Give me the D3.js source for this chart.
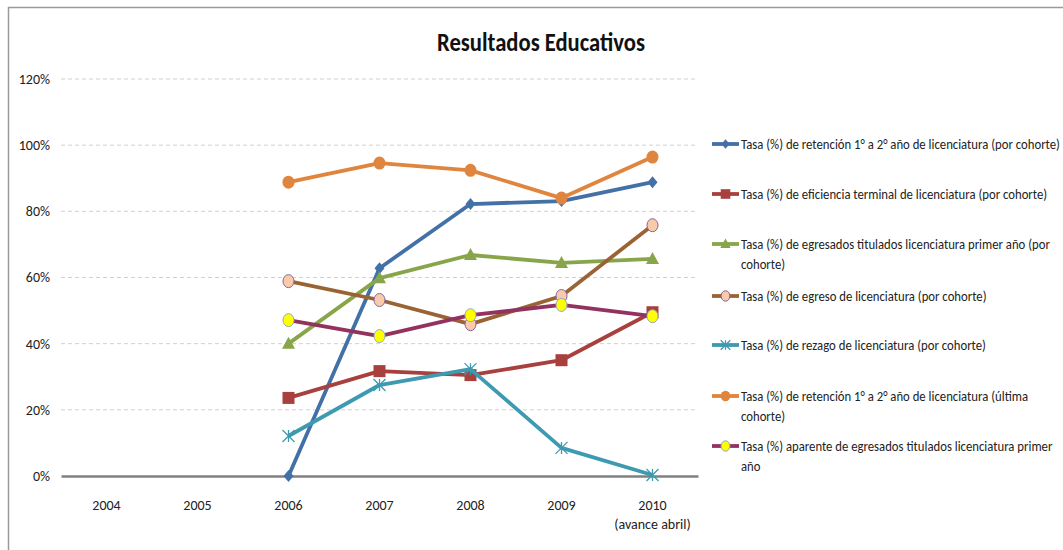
<!DOCTYPE html>
<html><head><meta charset="utf-8">
<script src="https://cdnjs.cloudflare.com/ajax/libs/d3/7.8.5/d3.min.js"></script>
<style>body{margin:0;background:#fff}svg{display:block}</style>
</head><body><svg id="c" width="1063" height="550"></svg>
<script>
const years = ["2004","2005","2006","2007","2008","2009","2010"];
const yearSub = ["","","","","","","(avance abril)"];
const yTicks = [0,20,40,60,80,100,120];
const dataYears = ["2006","2007","2008","2009","2010"];
const retencionCohorte = [0, 62.8, 82.2, 83.1, 88.8];
const eficienciaTerminal = [23.6, 31.7, 30.5, 35.0, 49.5];
const egresadosTitulados = [40.0, 59.8, 66.8, 64.4, 65.6];
const egresoLicenciatura = [58.9, 53.2, 45.9, 54.4, 75.8];
const rezagoLicenciatura = [12.1, 27.5, 32.3, 8.5, 0.3];
const retencionUltima = [88.8, 94.6, 92.4, 84.0, 96.4];
const aparenteTitulados = [47.1, 42.3, 48.6, 51.7, 48.3];
const seriesNames = [
 ["Tasa (%) de retención 1° a 2° año de licenciatura (por cohorte)"],
 ["Tasa (%) de eficiencia terminal de licenciatura (por cohorte)"],
 ["Tasa (%) de egresados titulados  licenciatura primer año (por","cohorte)"],
 ["Tasa (%) de egreso de licenciatura (por cohorte)"],
 ["Tasa (%) de rezago de licenciatura (por cohorte)"],
 ["Tasa (%) de retención 1° a 2° año de licenciatura (última","cohorte)"],
 ["Tasa (%) aparente de egresados titulados  licenciatura primer","año"]
];
const series = [
 {vals:retencionCohorte, color:"#4470A8", marker:"diamond"},
 {vals:eficienciaTerminal, color:"#A8403E", marker:"square"},
 {vals:egresadosTitulados, color:"#88A54A", marker:"triangle"},
 {vals:egresoLicenciatura, color:"#9A6334", marker:"circleP"},
 {vals:rezagoLicenciatura, color:"#3E9AB0", marker:"star"},
 {vals:retencionUltima, color:"#E0853D", marker:"circle"},
 {vals:aparenteTitulados, color:"#93325F", marker:"circleY"}
];
const font = "Carlito,'Liberation Sans Narrow',Lato,'Liberation Sans',sans-serif";
const svg = d3.select("#c");
svg.append("rect").attr("x",8.5).attr("y",7.5).attr("width",1100).attr("height",600)
  .attr("fill","#fff").attr("stroke","#9a9a9a").attr("stroke-width",1.5);

function fitX(sel, anchorX, target, w){
  const k = target / w;
  sel.attr("transform",`translate(${anchorX},0) scale(${k},1) translate(${-anchorX},0)`);
}

const title = svg.append("text").attr("x",541).attr("y",51).attr("text-anchor","middle")
  .attr("font-family",font).attr("font-weight","bold").attr("font-size",27).attr("fill","#111")
  .text("Resultados Educativos");
fitX(title, 541, 208, title.node().getComputedTextLength());

const x = d3.scaleBand().domain(years).range([61,698]);
const y = d3.scaleLinear().domain([0,120]).range([476,79]);
const g = svg.append("g");
g.selectAll("line.grid").data(yTicks.filter(d=>d>0)).join("line")
  .attr("x1",61).attr("x2",698).attr("y1",d=>y(d)).attr("y2",d=>y(d))
  .attr("stroke","#d0d0d0").attr("stroke-dasharray","4,3");
const yAx = d3.axisLeft(y).tickValues(yTicks).tickFormat(d=>d+"%").tickSize(0).tickPadding(0);
const ya = svg.append("g").attr("transform","translate(50,0)").call(yAx);
ya.select(".domain").remove();
ya.selectAll("text").attr("font-family",font).attr("font-size",14).attr("fill","#222");
const xAx = d3.axisBottom(x).tickSize(0).tickPadding(0);
const xa = svg.append("g").attr("transform","translate(0,476)").call(xAx);
xa.select(".domain").attr("stroke","#808080").attr("stroke-width",2.5);
xa.selectAll("text").attr("font-family",font).attr("font-size",14).attr("fill","#222").attr("dy","0").attr("y",34);
xa.selectAll(".tick").append("text").attr("y",53).attr("fill","#222").attr("font-family",font).attr("font-size",14)
  .attr("text-anchor","middle").text((d,i)=>yearSub[i]);

const cx = d=>x(d)+x.bandwidth()/2;
const line = d3.line().x((d,i)=>cx(dataYears[i])).y(d=>y(d));

function drawMarker(sel, type, color, px, py, s){
  s = s||1;
  if(type==="diamond"){
    sel.append("path").attr("d",`M${px},${py-6*s}L${px+5*s},${py}L${px},${py+6*s}L${px-5*s},${py}Z`).attr("fill",color);
  } else if(type==="square"){
    sel.append("rect").attr("x",px-6*s).attr("y",py-6*s).attr("width",12*s).attr("height",12*s).attr("fill",color);
  } else if(type==="triangle"){
    sel.append("path").attr("d",`M${px},${py-7*s}L${px+6.5*s},${py+5*s}L${px-6.5*s},${py+5*s}Z`).attr("fill",color);
  } else if(type==="circleP"){
    sel.append("ellipse").attr("cx",px).attr("cy",py).attr("rx",5.5*s).attr("ry",6.5*s).attr("fill","#F9CBAA").attr("stroke","#8064A2").attr("stroke-width",1);
  } else if(type==="circleY"){
    sel.append("ellipse").attr("cx",px).attr("cy",py).attr("rx",5.5*s).attr("ry",6.5*s).attr("fill","#FFFF00").attr("stroke","#8EA9C8").attr("stroke-width",1);
  } else if(type==="circle"){
    sel.append("ellipse").attr("cx",px).attr("cy",py).attr("rx",6*s).attr("ry",6.5*s).attr("fill",color);
  } else if(type==="star"){
    const r=6*s;
    const p=`M${px-r},${py-r}L${px+r},${py+r}M${px-r},${py+r}L${px+r},${py-r}M${px},${py-r}L${px},${py+r}`;
    sel.append("path").attr("d",p).attr("stroke",color).attr("stroke-width",1.3).attr("fill","none");
  }
}

series.forEach(s=>{
  const sg = svg.append("g");
  sg.append("path").datum(s.vals).attr("d",line).attr("fill","none")
    .attr("stroke",s.color).attr("stroke-width",3.8).attr("stroke-linejoin","round");
  s.vals.forEach((v,i)=>drawMarker(sg, s.marker, s.color, cx(dataYears[i]), y(v)));
});

const legY = [144,194,244,296,345,396,446];
const lg = svg.append("g");
const lgText = svg.append("g");
series.forEach((s,i)=>{
  const yy = legY[i];
  lg.append("line").attr("x1",712).attr("x2",739).attr("y1",yy).attr("y2",yy).attr("stroke",s.color).attr("stroke-width",3.8);
  drawMarker(lg, s.marker, s.color, 725.5, yy, 0.8);
  const t = lgText.append("text").attr("x",741).attr("y",yy+5).attr("font-family",font).attr("font-size",15).attr("fill","#222");
  seriesNames[i].forEach((ln,j)=>{
    t.append("tspan").attr("x",741).attr("dy",j===0?0:20.5).text(ln);
  });
});
const firstLen = lgText.select("text tspan").node().getComputedTextLength();
fitX(lgText, 741, 319, firstLen);
</script></body></html>
